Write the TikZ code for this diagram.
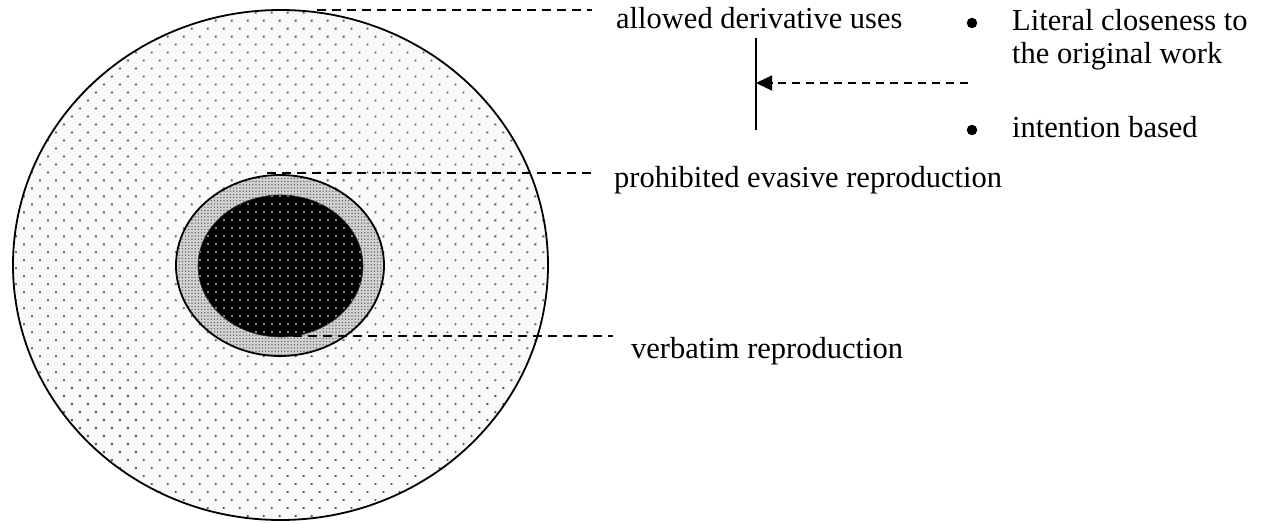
\documentclass[tikz,border=0pt]{standalone}
\usepackage{fontspec}
\setmainfont{Liberation Serif}
\usetikzlibrary{shapes.geometric,patterns.meta,arrows.meta}
\begin{document}
\begin{tikzpicture}[x=1pt,y=-1pt,
  lbl/.style={anchor=base west,inner sep=0pt,font=\fontsize{30.5}{34}\selectfont},
  bul/.style={circle,fill=black,inner sep=0pt,minimum size=10.5pt},
  leader/.style={line width=1.5pt,dash pattern=on 9pt off 6pt},
  ring/.style={ellipse,inner sep=0pt,draw=black,line width=1.8pt}]
\useasboundingbox (0,0) rectangle (1267,524);
% outer region
\node[ring,minimum width=535pt,minimum height=510pt,
  preaction={fill=gray!5},
  pattern={Dots[distance=11.3pt,angle=45,radius=1.3pt]},pattern color=black!65] (outer) at (280.5,265) {};
% middle ring
\node[ring,minimum width=208pt,minimum height=181pt,
  preaction={fill=gray!35},
  pattern={Dots[distance=3.2pt,radius=0.85pt]},pattern color=black!55] (mid) at (280,265.5) {};
% inner core
\node[ellipse,inner sep=0pt,draw=black!80,line width=0.6pt,minimum width=165pt,minimum height=142pt,
  preaction={fill=black},
  pattern={Dots[distance=8pt,radius=1.2pt]},pattern color=gray!60] (core) at (280.5,266) {};
% labels
\node[lbl] (allowed) at (616,29) {allowed derivative uses};
\node[lbl] (prohib) at (614,188) {prohibited evasive reproduction};
\node[lbl] (verb) at (631,358) {verbatim reproduction};
\node[bul] (b1) at (972,23) {};
\node[lbl] (lit1) at (1012,31) {Literal closeness to};
\node[lbl] (lit2) at (1012,64) {the original work};
\node[bul] (b2) at (972,130) {};
\node[lbl] (intent) at (1012,138) {intention based};
% leader lines
\coordinate (a1) at (317,10);  \coordinate (a2) at (592,10);
\coordinate (p1) at (267,173); \coordinate (p2) at (593,173);
\coordinate (v1) at (293,336); \coordinate (v2) at (613,336);
\draw[leader] (a1) -- (a2);
\draw[leader] (p1) -- (p2);
\draw[leader] (v1) -- (v2);
% vertical bar and arrow
\coordinate (vt) at (756,38); \coordinate (vb) at (756,130);
\coordinate (va) at (756,83); \coordinate (vs) at (968,83);
\draw[line width=1.6pt] (vt) -- (vb);
\draw[line width=1.4pt,dash pattern=on 8pt off 6pt,-{Triangle[length=16pt,width=15pt]}] (vs) -- (va);
\end{tikzpicture}
\end{document}
